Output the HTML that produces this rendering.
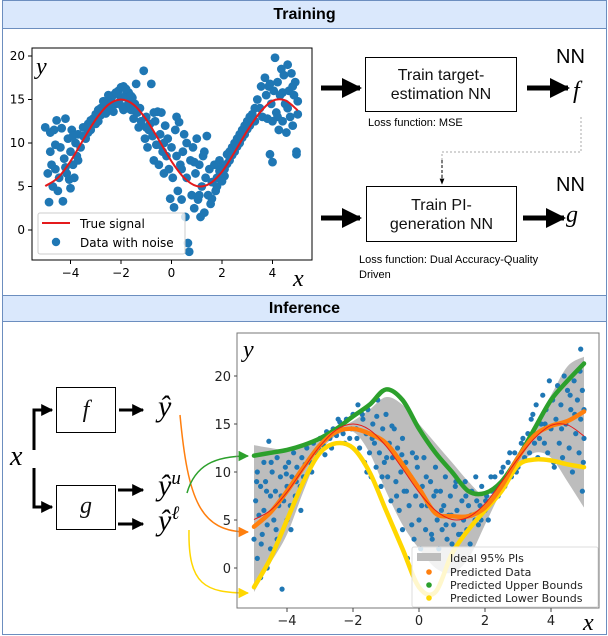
<!DOCTYPE html>
<html><head><meta charset="utf-8">
<style>
html,body{margin:0;padding:0;background:#fff;}
#root{position:relative;width:608px;height:636px;overflow:hidden;font-family:"Liberation Sans",sans-serif;}
.hdr{position:absolute;left:2px;width:603px;background:#dae8fc;border:1px solid #6c8ebf;text-align:center;font-weight:bold;font-size:16px;color:#000;}
.sec{position:absolute;left:2px;width:603px;border:1px solid #6c8ebf;border-top:none;background:#fff;}
.box{position:absolute;border:1px solid #000;background:#fff;text-align:center;font-size:16px;line-height:19px;color:#111;box-sizing:border-box;}
.txt{position:absolute;white-space:nowrap;color:#000;}
.m{font-family:"Liberation Serif",serif;font-style:italic;}
svg text{font-family:"DejaVu Sans",sans-serif;}
</style></head>
<body>
<div id="root">
  <div class="sec" style="top:28px;height:267px"></div>
  <div class="sec" style="top:321px;height:313px"></div>
  <div class="hdr" style="top:0;height:27px;line-height:28px">Training</div>
  <div class="hdr" style="top:295px;height:25px;line-height:26px">Inference</div>

  <div class="box" style="left:365px;top:57px;width:152px;height:55px;padding-top:8px">Train target-<br>estimation NN</div>
  <div class="box" style="left:366px;top:186px;width:151px;height:56px;padding-top:9px">Train PI-<br>generation NN</div>
  <div class="txt" style="left:368px;top:117px;font-size:11px">Loss function: MSE</div>
  <div class="txt" style="left:359px;top:253px;font-size:11px;line-height:15px">Loss function: Dual Accuracy-Quality<br>Driven</div>
  <div class="txt" style="left:556px;top:46px;font-size:20px">NN</div>
  <div class="txt m" style="left:573px;top:78px;font-size:24px">f</div>
  <div class="txt" style="left:556px;top:174px;font-size:20px">NN</div>
  <div class="txt m" style="left:566px;top:202px;font-size:24px">g</div>

  <div class="box" style="left:56px;top:387px;width:60px;height:46px"><span class="m" style="font-size:24px;line-height:44px">f</span></div>
  <div class="box" style="left:56px;top:485px;width:60px;height:45px"><span class="m" style="font-size:24px;line-height:40px">g</span></div>
  <div class="txt m" style="left:10px;top:441px;font-size:28px">x</div>
  <div class="txt m" style="left:158px;top:390px;font-size:30px">ŷ</div>
  <div class="txt m" style="left:158px;top:468px;font-size:30px">ŷ<sup style="font-size:19px">u</sup></div>
  <div class="txt m" style="left:158px;top:503px;font-size:30px">ŷ<sup style="font-size:19px">ℓ</sup></div>

  <svg id="dia" width="608" height="636" style="position:absolute;left:0;top:0">
    <defs>
      <marker id="ah" viewBox="0 0 10 10" refX="9" refY="5" markerWidth="4" markerHeight="4" orient="auto"><path d="M0,0L10,5L0,10z" fill="#000"/></marker>
      <marker id="ahs" viewBox="0 0 10 10" refX="9" refY="5" markerWidth="6" markerHeight="6" orient="auto"><path d="M0,1L10,5L0,9z" fill="#000"/></marker>
      <marker id="ao" viewBox="0 0 10 10" refX="9" refY="5" markerWidth="7" markerHeight="7" orient="auto"><path d="M0,0L10,5L0,10z" fill="#ff7f0e"/></marker>
      <marker id="ag" viewBox="0 0 10 10" refX="9" refY="5" markerWidth="7" markerHeight="7" orient="auto"><path d="M0,0L10,5L0,10z" fill="#2ca02c"/></marker>
      <marker id="ay" viewBox="0 0 10 10" refX="9" refY="5" markerWidth="7" markerHeight="7" orient="auto"><path d="M0,0L10,5L0,10z" fill="#ffd700"/></marker>
    </defs>
    <line x1="321" y1="88" x2="360" y2="88" stroke="#000" stroke-width="5" marker-end="url(#ah)"/>
    <line x1="321" y1="218" x2="360" y2="218" stroke="#000" stroke-width="5" marker-end="url(#ah)"/>
    <line x1="527" y1="88" x2="568" y2="88" stroke="#000" stroke-width="5" marker-end="url(#ah)"/>
    <line x1="523" y1="218" x2="564" y2="218" stroke="#000" stroke-width="5" marker-end="url(#ah)"/>
    <polyline points="581,117 581,152 442,152 442,183" fill="none" stroke="#aaa" stroke-dasharray="2,2"/>
    <line x1="442" y1="160" x2="442" y2="184" stroke="#000" stroke-dasharray="3,2" marker-end="url(#ahs)"/>
    <polyline points="34,450 34,410 52,410" fill="none" stroke="#000" stroke-width="3" marker-end="url(#ah)"/>
    <polyline points="34,468 34,507 52,507" fill="none" stroke="#000" stroke-width="3" marker-end="url(#ah)"/>
    <line x1="119" y1="410" x2="143" y2="410" stroke="#000" stroke-width="3" marker-end="url(#ah)"/>
    <line x1="118" y1="490" x2="143" y2="490" stroke="#000" stroke-width="3" marker-end="url(#ah)"/>
    <line x1="118" y1="524" x2="143" y2="524" stroke="#000" stroke-width="3" marker-end="url(#ah)"/>
    <path d="M180,415 C188,500 200,532 248,532" fill="none" stroke="#ff7f0e" stroke-width="1.5" marker-end="url(#ao)"/>
    <path d="M187,493 C195,465 215,456 248,456" fill="none" stroke="#2ca02c" stroke-width="1.5" marker-end="url(#ag)"/>
    <path d="M189,530 C188,585 205,593 248,593" fill="none" stroke="#ffd700" stroke-width="1.5" marker-end="url(#ay)"/>
  </svg>

  <svg id="c1" width="608" height="636" style="position:absolute;left:0;top:0"></svg>
  <svg id="c2" width="608" height="636" style="position:absolute;left:0;top:0"></svg>
</div>
<script>
// ---- Training chart data ----
const trainX = [-5,-4.9,-4.85,-4.8,-4.75,-4.7,-4.65,-4.6,-4.55,-4.5,-4.45,-4.4,-4.35,-4.3,-4.25,-4.2,-4.15,-4.1,-4.05,-4,-3.95,-3.9,-3.85,-3.8,-3.75,-3.7,-3.6,-3.5,-3.4,-3.3,-3.2,-3.1,-3,-2.9,-2.8,-2.7,-2.6,-2.5,-2.4,-2.3,-2.2,-2.1,-2,-1.95,-1.9,-1.8,-1.75,-1.7,-1.6,-1.55,-1.5,-1.45,-1.4,-1.35,-1.3,-1.25,-1.2,-1.1,-1.05,-1,-0.95,-0.9,-0.85,-0.8,-0.75,-0.7,-0.65,-0.6,-0.55,-0.5,-0.45,-0.4,-0.35,-0.3,-0.25,-0.2,-0.15,-0.1,-0.05,0,0.05,0.1,0.15,0.2,0.25,0.3,0.35,0.4,0.45,0.5,0.55,0.6,0.65,0.7,0.75,0.8,0.85,0.9,0.95,1,1.05,1.1,1.15,1.2,1.25,1.3,1.35,1.4,1.45,1.5,1.55,1.6,1.7,1.75,1.8,1.9,2,2.1,2.2,2.3,2.4,2.5,2.6,2.7,2.8,2.9,3,3.1,3.2,3.3,3.4,3.5,3.55,3.6,3.7,3.75,3.8,3.85,3.9,3.95,4,4.05,4.1,4.15,4.2,4.25,4.3,4.35,4.4,4.45,4.5,4.55,4.6,4.65,4.7,4.75,4.8,4.85,4.9,4.95,5,5,4.95,
  -3.5,-3.4,-3.3,-3.2,-3,-2.9,-2.8,-2.7,-2.6,-2.5,-2.4,-2.3,-2.2,-2.1,-2,-1.9,-1.8,-1.7,-1.6,-1.5,-1.4,2.1,2.2,2.3,2.4,2.5,2.6,2.7,2.8,2.9,3,3.1,3.2,3.3,1.6,1.8,1.9,2,-4.6,-4.2,-4,-3.9,-3.7,-4.8,0.6,0.4,-0.3,0.2,4.2,4.4,4.6,4.8,3.9,4,-1,-0.7,-0.45,0.9,1.3,1.1];
const trainY = [11.8,6.5,3.2,9,7.5,5,11.5,7,12.6,4.5,6,9.5,11.7,3.3,8.2,12.8,6.5,10.5,5.8,9,11.5,7.5,6,10,8.5,11,9.5,11.8,10.5,12.2,11.5,12.8,13.3,12.5,14,13.8,14.5,14.2,15,15.5,14.5,16,15.2,14.2,16.5,15.5,14,15.8,13.8,15.2,12.8,14.5,16.8,13.5,11.8,14,12.5,18.3,10.5,13,9.5,11.5,12.2,16.8,10.8,8,12.5,9.8,13.6,7.5,11,13.5,9,6.5,12,8.5,10.5,7,3.6,9.5,6,2.6,11.5,8.5,4.5,12.4,7.5,3.5,9,11,1.5,6,-1.5,-2.5,8,4,9.5,2.5,6.5,10.5,3.5,7.5,1.5,5,8.5,2,6,10.8,4,7,3,5.5,7.5,4.5,6,8,7.2,6.2,8.7,8,9.5,9,10.5,10,11.5,11,12.5,12,13.3,12.5,15,14,16.5,13,17.5,15.5,12.8,16.5,8.7,14.5,7.8,16,19.8,13.5,17,11.5,15.5,18.5,12.5,17.8,14.5,11.2,19,16,13,18,12,15.5,17,8.7,14.8,13.3,9,
  10.8,11.8,11.2,12.6,12.2,13.8,13.2,14.8,13.4,15.5,14,13.6,15.8,14.6,16.4,13.8,16.2,14.6,15.4,14.2,13.6,7,7.6,9,8.6,10,9.6,11,10.6,12,11.6,13,12.6,14,3.6,5,6.8,5.6,9.8,7.2,4.8,10.8,8,11.2,10,7,10,13,13,15.8,14,16.5,16.8,12.5,11.8,13.5,9.8,7.8,9,4];
const signalX = [-5,-4.5,-4,-3.5,-3,-2.5,-2,-1.5,-1,-0.5,0,0.5,1,1.5,2,2.5,3,3.5,4,4.5,5];
const signalY = [5.05,6.0,7.9,10.35,12.7,14.4,15,14.4,12.7,10.35,7.9,6.0,5.05,5.3,6.7,8.95,11.4,13.5,14.85,14.9,13.75];
const xTicks = [-4,-2,0,2,4];
const yTicks1 = [0,5,10,15,20];

// ---- Inference chart data ----
const infX = [-5,-4.95,-4.9,-4.9,-4.85,-4.8,-4.8,-4.75,-4.7,-4.7,-4.65,-4.6,-4.6,-4.55,-4.5,-4.5,-4.45,-4.4,-4.35,-4.3,-4.3,-4.25,-4.2,-4.15,-4.1,-4.05,-4,-4,-3.95,-3.9,-3.85,-3.8,-3.75,-3.7,-3.6,-3.55,-3.5,-3.4,-3.3,-3.2,-3.1,-3,-2.9,-2.8,-2.7,-2.6,-2.5,-2.4,-2.3,-2.2,-2.1,-2,-1.9,-1.85,-1.8,-1.7,-1.65,-1.6,-1.55,-1.5,-1.45,-1.4,-1.35,-1.3,-1.25,-1.2,-1.15,-1.1,-1.05,-1,-0.95,-0.9,-0.85,-0.8,-0.75,-0.7,-0.65,-0.6,-0.55,-0.5,-0.5,-0.45,-0.4,-0.35,-0.3,-0.25,-0.2,-0.15,-0.1,-0.05,0,0.05,0.1,0.15,0.2,0.25,0.3,0.35,0.4,0.45,0.5,0.55,0.6,0.65,0.7,0.75,0.8,0.85,0.9,0.95,1,1.05,1.1,1.15,1.2,1.3,1.35,1.4,1.45,1.5,1.55,1.6,1.7,1.75,1.8,1.85,1.9,2,2.05,2.1,2.2,2.3,2.4,2.5,2.6,2.7,2.8,2.9,3,3.1,3.2,3.3,3.35,3.4,3.5,3.55,3.6,3.7,3.75,3.8,3.85,3.9,3.95,4,4.05,4.1,4.15,4.2,4.25,4.3,4.35,4.4,4.45,4.5,4.55,4.6,4.65,4.7,4.75,4.8,4.85,4.9,4.9,4.95,4.95,5,5,
  -4.92,-4.78,-4.62,-4.48,-4.33,-4.18,-4.02,-3.88,-3.72,-3.58,-3.45,-3.25,-3.05,-2.85,-2.65,-2.45,-2.25,-2.05,-1.88,-1.72,-1.58,-1.42,-1.28,-1.12,-0.98,-0.82,-0.68,-0.52,-0.38,-0.22,-0.08,0.08,0.22,0.38,0.52,0.68,0.82,0.98,1.12,1.28,1.42,1.58,1.72,1.88,2.02,2.18,2.35,2.55,2.75,2.95,3.15,3.45,3.65,3.82,4.08,4.32,4.58,4.72,4.88,4.98];
const infY = [3,7,10,1,5.5,8.5,-1,3.5,11,6,9,0,4.5,13.2,7.5,2,10,5,8,11.5,3,6.5,9.5,-2.2,7,10.5,5,8.5,11,6.5,9.5,12,7.5,10.5,8.5,11.5,9.5,12.5,11,13,12,13.5,12.8,14.2,13.5,14.5,13.8,15.2,14,15.5,13.5,16,14.5,17,12.5,15.5,11,14,16.5,12,9.5,15,13,10.5,17.5,12,8.5,14.5,11,16,9.5,13,7,11.5,14.5,9,12.5,6,10,13.5,4,8,11,1,6.5,9.5,12,3,7.5,10.5,5,2,8.5,11.5,4,6.5,1,9,3,7.5,10.5,5,2,8,4,6.5,9.5,3,5.5,7.5,2.5,4.5,8.5,6,3.5,7,5,9,4,6.5,2.5,8,5,7,4.5,6.5,8.5,6,7.5,5,8,9.5,7.5,10,8.5,11,9.5,12,10.5,13,11.5,14,12,15.5,13,17,11.5,15,18,13,16.5,12,19.5,14.5,17.5,10.5,15.5,19,13,17,11.5,20,15,18.5,12.5,16.5,10,19.5,14,17.5,12,22.8,15.5,18.5,8,13.5,16.5,
  9,2.5,8,11,4,7.5,9.8,4,9,6,10.8,10,12.5,11.8,12.5,15.5,13,14.5,13.5,16,10,13.5,15.8,9.5,11.5,14.8,7.5,11.8,8,4.5,11.5,6.5,9.5,3.5,8,6,4.5,5.5,9,3.5,7.5,5.5,9.5,5,7,9.5,8,10.5,12,10,13.5,16,13.5,15,11,14.5,18,16,20.5,11];
const lineX = [-5,-4.5,-4,-3.5,-3,-2.5,-2,-1.5,-1,-0.5,0,0.5,1,1.5,2,2.5,3,3.5,4,4.5,5];
const predY = [4.3,5.8,8,10.5,12.8,14.2,14.5,14,13,10.8,8.3,5.7,5.4,5.4,6.3,8.5,11.5,13.8,14.8,15.3,16.3];
const upperY = [11.7,12,12.3,12.8,13.5,14.5,15.8,17,18.6,17.5,14.5,12,10,8,7.8,9,11.5,14.5,17.5,19.5,21.3];
const lowerY = [-2,1,5,9,12,13,12.5,10,6,2,-2,-2.5,1.5,4,6,8,10.7,11.3,11.2,10.8,10.5];
const bandTop = [12.8,12.5,12.3,12.8,13.5,14.5,15.3,16.5,17.8,17,15,13,11,9,7.5,8.5,11.5,15,18,21,22];
const bandBot = [-2.5,0.5,3.5,8,12,13.8,14.2,12,8,4.5,2,0,-0.5,1,4.5,8,10.5,12,11.5,9,6.3];
const yTicks2 = [0,5,10,15,20];

const NS = 'http://www.w3.org/2000/svg';
function mk(svg, tag, attrs){ const e=document.createElementNS(NS,tag); for(const k in attrs) e.setAttribute(k,attrs[k]); svg.appendChild(e); return e; }
function axisFn(d0,d1,p0,p1){ return v => p0 + (v-d0)*(p1-p0)/(d1-d0); }
function smooth(P){
  let d='M'+P[0][0]+','+P[0][1];
  for(let i=0;i<P.length-1;i++){
    const p0=P[Math.max(0,i-1)],p1=P[i],p2=P[i+1],p3=P[Math.min(P.length-1,i+2)];
    const c1=[p1[0]+(p2[0]-p0[0])/6,p1[1]+(p2[1]-p0[1])/6];
    const c2=[p2[0]-(p3[0]-p1[0])/6,p2[1]-(p3[1]-p1[1])/6];
    d+=' C'+c1[0]+','+c1[1]+' '+c2[0]+','+c2[1]+' '+p2[0]+','+p2[1];
  }
  return d;
}

// ===== Training chart =====
(function(){
  const svg = document.getElementById('c1');
  const L=32,R=312,T=48,B=260;
  const sx = axisFn(0,2,171.5,222), sy = axisFn(0,20,230,56);
  const clip = mk(svg,'clipPath',{id:'cl1'}); const cr=document.createElementNS(NS,'rect'); cr.setAttribute('x',L);cr.setAttribute('y',T);cr.setAttribute('width',R-L);cr.setAttribute('height',B-T); clip.appendChild(cr);
  const g = mk(svg,'g',{'clip-path':'url(#cl1)'});
  
  
  trainX.forEach((x,i)=>{
    const c = mk(g,'circle',{cx:sx(x),cy:sy(trainY[i]),r:4.4,fill:'#1f77b4'});
    
    
  });
  const pl = mk(g,'path',{d:smooth(signalX.map((x,i)=>[sx(x),sy(signalY[i])])),fill:'none',stroke:'#e41a1c','stroke-width':2});
  
  
  const fr = mk(svg,'rect',{x:L,y:T,width:R-L,height:B-T,fill:'none',stroke:'#000','stroke-width':1});
  
  
  xTicks.forEach(t=>{
    mk(svg,'line',{x1:sx(t),x2:sx(t),y1:B,y2:B+4,stroke:'#000'});
    const tx = mk(svg,'text',{x:sx(t),y:B+17,'font-size':12,'text-anchor':'middle'});
    tx.textContent = t<0 ? '\u2212'+(-t) : String(t);
    
    
  });
  yTicks1.forEach(t=>{
    mk(svg,'line',{x1:L-4,x2:L,y1:sy(t),y2:sy(t),stroke:'#000'});
    const tx = mk(svg,'text',{x:L-7,y:sy(t)+4,'font-size':12,'text-anchor':'end'});
    tx.textContent = String(t);
    
    
  });
  const yl = mk(svg,'text',{x:36,y:74,'font-size':24,'font-style':'italic',style:'font-family:"Liberation Serif",serif'}); yl.textContent='y';
  
  
  const xl = mk(svg,'text',{x:293,y:286,'font-size':24,'font-style':'italic',style:'font-family:"Liberation Serif",serif'}); xl.textContent='x';
  
  
  const lg = mk(svg,'g',{});
  
  
  mk(lg,'rect',{x:38,y:213,width:147,height:41,rx:2,fill:'rgba(255,255,255,0.8)',stroke:'#ccc'});
  mk(lg,'line',{x1:42,x2:70,y1:223,y2:223,stroke:'#e41a1c','stroke-width':2});
  mk(lg,'circle',{cx:56,cy:242,r:4.2,fill:'#1f77b4'});
  const t1=mk(lg,'text',{x:80,y:228,'font-size':12}); t1.textContent='True signal';
  
  
  const t2=mk(lg,'text',{x:80,y:247,'font-size':12}); t2.textContent='Data with noise';
  
  
})();

// ===== Inference chart =====
(function(){
  const svg = document.getElementById('c2');
  const L=237,R=599,T=333,B=608;
  const sx = axisFn(0,4,419,551), sy = axisFn(0,20,568,376);
  const clip = mk(svg,'clipPath',{id:'cl2'}); const cr=document.createElementNS(NS,'rect'); cr.setAttribute('x',L);cr.setAttribute('y',T);cr.setAttribute('width',R-L);cr.setAttribute('height',B-T); clip.appendChild(cr);
  const g = mk(svg,'g',{'clip-path':'url(#cl2)'});
  
  
  const topP = lineX.map((x,i)=>[sx(x),sy(bandTop[i])]);
  const botP = lineX.map((x,i)=>[sx(x),sy(bandBot[i])]).reverse();
  const band = mk(g,'path',{d:smooth(topP)+' L'+smooth(botP).slice(1)+' Z',fill:'#bdbdbd'});
  
  
  infX.forEach((x,i)=>{
    const c = mk(g,'circle',{cx:sx(x),cy:sy(infY[i]),r:2.6,fill:'#1f77b4'});
    
    
  });
  function line(ys,color,w,name){
    const p = mk(g,'path',{d:smooth(lineX.map((x,i)=>[sx(x),sy(ys[i])])),fill:'none',stroke:color,'stroke-width':w,'stroke-linecap':'round','stroke-linejoin':'round'});
    
    
  }
  line(upperY,'#2ca02c',4.5,'predicted-upper-bounds');
  line(lowerY,'#ffd700',4.5,'predicted-lower-bounds');
  line(predY,'#ff7f0e',4.5,'predicted-data');
  const sp = mk(g,'path',{d:smooth(signalX.map((x,i)=>[sx(x),sy(signalY[i])])),fill:'none',stroke:'#e41a1c','stroke-width':1});
  
  
  const fr = mk(svg,'rect',{x:L,y:T,width:R-L,height:B-T,fill:'none',stroke:'#777','stroke-width':1});
  
  
  xTicks.forEach(t=>{
    mk(svg,'line',{x1:sx(t),x2:sx(t),y1:B,y2:B+4,stroke:'#444'});
    const tx = mk(svg,'text',{x:sx(t),y:B+17,'font-size':13,'text-anchor':'middle',fill:'#222'});
    tx.textContent = t<0 ? '\u2212'+(-t) : String(t);
    
    
  });
  yTicks2.forEach(t=>{
    mk(svg,'line',{x1:L-3,x2:L,y1:sy(t),y2:sy(t),stroke:'#444'});
    const tx = mk(svg,'text',{x:L-6,y:sy(t)+5,'font-size':13,'text-anchor':'end',fill:'#222'});
    tx.textContent = String(t);
    
    
  });
  const yl = mk(svg,'text',{x:243,y:357,'font-size':24,'font-style':'italic',style:'font-family:"Liberation Serif",serif'}); yl.textContent='y';
  
  
  const xl = mk(svg,'text',{x:583,y:630,'font-size':24,'font-style':'italic',style:'font-family:"Liberation Serif",serif'}); xl.textContent='x';
  
  
  const lg = mk(svg,'g',{});
  
  
  mk(lg,'rect',{x:412,y:547,width:186,height:60,rx:2,fill:'rgba(255,255,255,0.8)',stroke:'#ddd'});
  mk(lg,'rect',{x:417,y:553,width:24,height:8,fill:'#bdbdbd'});
  const items = [['Ideal 95% PIs',null,558],['Predicted Data','#ff7f0e',572],['Predicted Upper Bounds','#2ca02c',585],['Predicted Lower Bounds','#ffd700',598]];
  items.forEach(it=>{
    if(it[1]) mk(lg,'circle',{cx:429,cy:it[2],r:2.8,fill:it[1]});
    const t = mk(lg,'text',{x:450,y:it[2]+4,'font-size':11,fill:'#222'}); t.textContent = it[0];
    
    
  });
})();
</script>
</body></html>
